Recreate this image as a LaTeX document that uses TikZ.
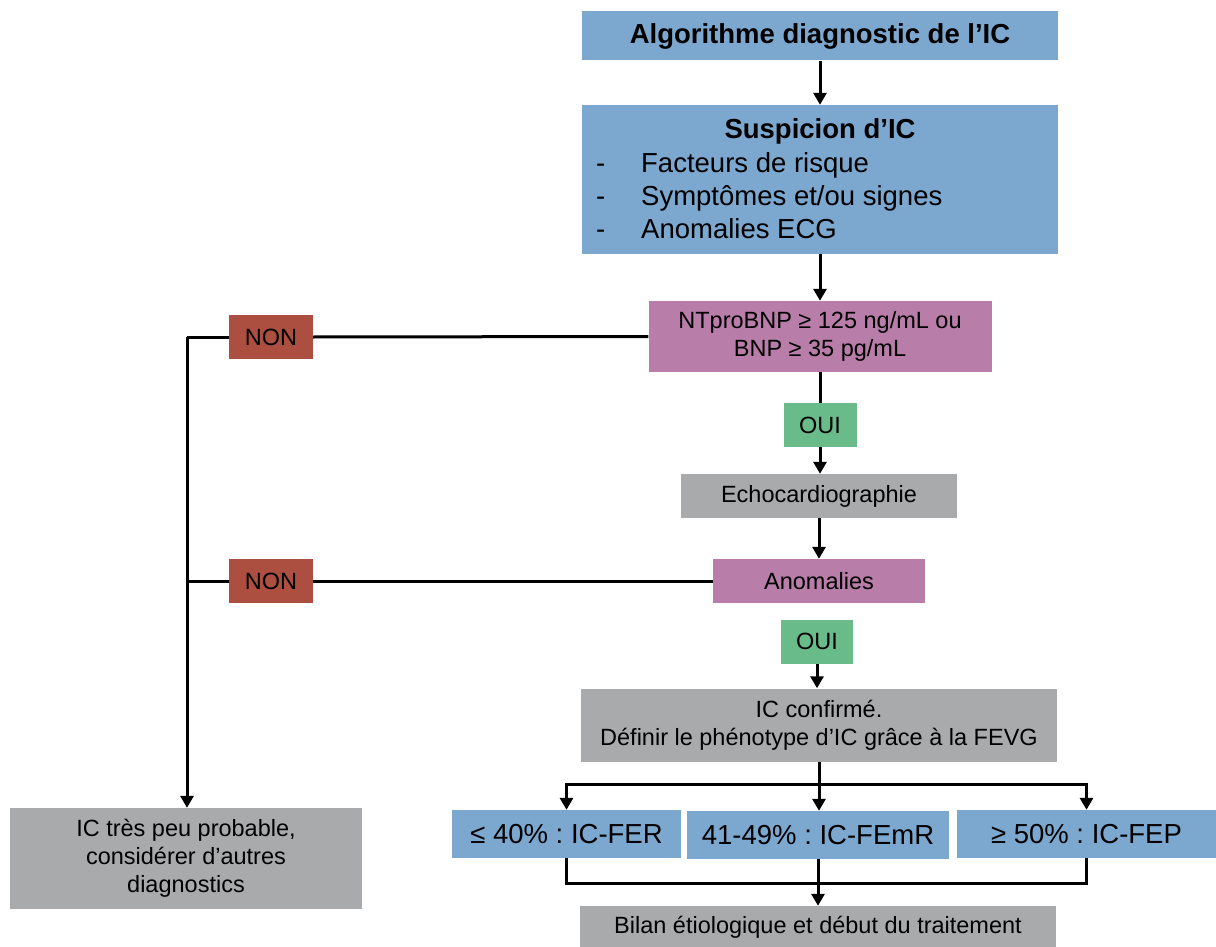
\documentclass[tikz,border=0pt]{standalone}
\usepackage{fontspec}
\setmainfont{Liberation Sans}
\usetikzlibrary{arrows.meta}
\frenchspacing
\definecolor{boxblue}{HTML}{7CA7CF}
\definecolor{boxpink}{HTML}{B87DA8}
\definecolor{boxred}{HTML}{AC4F40}
\definecolor{boxgreen}{HTML}{6ABB8A}
\definecolor{boxgray}{HTML}{A8AAAB}
\newcommand{\bigtxt}{\fontsize{27.5}{33}\selectfont}
\newcommand{\smalltxt}{\fontsize{23.5}{28}\selectfont}
\begin{document}
\begin{tikzpicture}[x=1pt, y=-1pt]
        \tikzset{box/.style={inner sep=0pt, align=center, text=black},
                 blue/.style={box, fill=boxblue, font=\bigtxt},
                 pink/.style={box, fill=boxpink, font=\smalltxt},
                 gray/.style={box, fill=boxgray, font=\smalltxt},
                 non/.style={box, fill=boxred, font=\smalltxt, minimum width=84pt, minimum height=44pt},
                 oui/.style={box, fill=boxgreen, font=\smalltxt, minimum width=73pt, minimum height=44pt},
                 link/.style={line width=3pt},
                 arr/.style={link, -{Triangle[length=12pt, width=13pt]}}}
        \fill[white] (0,0) rectangle (1216,947);
        \useasboundingbox (0,0) rectangle (1216,947);
        \node[blue, minimum width=476pt, minimum height=49pt, font=\bigtxt\bfseries] (title) at (820,36) {Algorithme diagnostic de l’IC};
        \node[blue, minimum width=476pt, minimum height=149pt] (susp) at (820,179.5) {};
        \node[box, font=\bigtxt\bfseries] (susptitle) at (820,131) {Suspicion d’IC};
        \node[box, font=\bigtxt, align=left, anchor=west] (susplist) at (596,196)
            {\makebox[45pt][l]{-}Facteurs de risque\\
             \makebox[45pt][l]{-}Symptômes et/ou signes\\
             \makebox[45pt][l]{-}Anomalies ECG};
        \node[pink, minimum width=343pt, minimum height=71pt] (bnp) at (820,336.5) {NTproBNP ≥ 125 ng/mL ou\\BNP ≥ 35 pg/mL};
        \node[non] (non1) at (271,337) {NON};
        \node[oui] (oui1) at (820,425) {OUI};
        \node[gray, minimum width=276pt, minimum height=44pt] (echo) at (819,496) {Echocardiographie};
        \node[pink, minimum width=212pt, minimum height=44pt] (anom) at (819,581) {Anomalies};
        \node[non] (non2) at (271,581) {NON};
        \node[oui, minimum width=72pt] (oui2) at (817,641.5) {OUI};
        \node[gray, minimum width=476pt, minimum height=73pt] (confirm) at (819,725) {IC confirmé.\\Définir le phénotype d’IC grâce à la FEVG};
        \node[blue, minimum width=229pt, minimum height=48pt] (fer) at (566.5,834) {≤ 40\% : IC-FER};
        \node[blue, minimum width=262pt, minimum height=48pt] (femr) at (818,835) {41-49\% : IC-FEmR};
        \node[blue, minimum width=259pt, minimum height=48pt] (fep) at (1086.5,834) {≥ 50\% : IC-FEP};
        \node[gray, minimum width=476pt, minimum height=42pt] (bilan) at (818,927) {Bilan étiologique et début du traitement};
        \node[gray, minimum width=352pt, minimum height=101pt] (unlikely) at (186,858.5) {IC très peu probable,\\considérer d’autres\\diagnostics};
        \coordinate (turnA) at (187,337);
        \coordinate (turnB) at (187,581);
        \coordinate (split) at (819,784);
        \coordinate (merge) at (818,883);
        \draw[arr] (title.south) -- (susp.north);
        \draw[arr] (susp.south) -- (bnp.north);
        \draw[link] (bnp.west) -- (non1.east);
        \draw[link] (non1.west) -- (turnA);
        \draw[arr] (turnA) -- (turnA |- unlikely.north);
        \draw[link] (bnp.south) -- (oui1.north);
        \draw[arr] (oui1.south) -- (oui1.south |- echo.north);
        \draw[arr] (echo.south) -- (anom.north);
        \draw[link] (anom.west) -- (non2.east);
        \draw[link] (non2.west) -- (turnB);
        \draw[arr] (oui2.south) -- (oui2.south |- confirm.north);
        \draw[link] (confirm.south) -- (split);
        \draw[arr] (split) -| (fer.north);
        \draw[arr] (split) -| (fep.north);
        \draw[arr] (split) -- (split |- femr.north);
        \draw[link] (fer.south) |- (merge) -| (fep.south);
        \draw[arr] (femr.south) -- (bilan.north);
\end{tikzpicture}
\end{document}
